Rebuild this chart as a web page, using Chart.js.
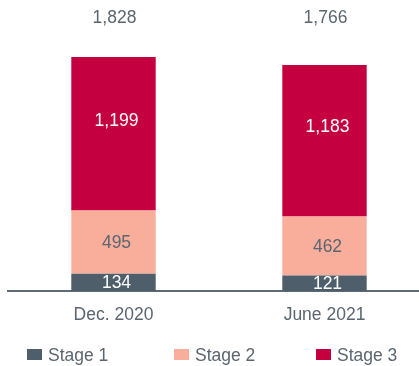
<!DOCTYPE html>
<html>
<head>
<meta charset="utf-8">
<script src="https://cdn.jsdelivr.net/npm/chart.js@4/dist/chart.umd.min.js"></script>
<style>
  html, body { margin: 0; padding: 0; background: #fff; overflow: hidden; }
  #wrap { width: 419px; height: 366px; overflow: hidden; }
</style>
</head>
<body>
<div id="wrap"><canvas id="stageChart" width="430" height="366"></canvas></div>
<script>
const categories = ["Dec. 2020", "June 2021"];
const stageNames = ["Stage 1", "Stage 2", "Stage 3"];
const stage1 = [134, 121];
const stage2 = [495, 462];
const stage3 = [1199, 1183];

const stageColors = ["#4e5f6b", "#f9ae9c", "#c50040"];
const labelColors = ["#ffffff", "#5b6670", "#ffffff"];
const labelShiftY = [1, 1, -13];
const textGray = "#5b6670";
const fontFamily = "'Liberation Sans', Arial, sans-serif";
const fontSize = 17.5;

const fmt = v => v.toLocaleString("en-US");

// value labels inside segments + totals in a row at the top
const valueLabels = {
    id: "valueLabels",
    afterDatasetsDraw(chart) {
        const ctx = chart.ctx;
        ctx.save();
        ctx.font = fontSize + "px " + fontFamily;
        ctx.textAlign = "center";
        ctx.textBaseline = "middle";
        chart.data.datasets.forEach((ds, di) => {
            chart.getDatasetMeta(di).data.forEach((bar, i) => {
                ctx.fillStyle = labelColors[di];
                ctx.fillText(fmt(ds.data[i]), bar.x + 3, (bar.y + bar.base) / 2 + labelShiftY[di]);
            });
        });
        const topMeta = chart.getDatasetMeta(chart.data.datasets.length - 1);
        ctx.fillStyle = textGray;
        topMeta.data.forEach((bar, i) => {
            const total = chart.data.datasets.reduce((s, ds) => s + ds.data[i], 0);
            ctx.fillText(fmt(total), bar.x + 1, 18);
        });
        ctx.restore();
    }
};

// legend drawn along the bottom
const legendXs = [27, 174, 316];
const bottomLegend = {
    id: "bottomLegend",
    afterDraw(chart) {
        const ctx = chart.ctx;
        ctx.save();
        ctx.font = fontSize + "px " + fontFamily;
        ctx.textAlign = "left";
        ctx.textBaseline = "middle";
        chart.data.datasets.forEach((ds, di) => {
            const x = legendXs[di];
            ctx.fillStyle = ds.backgroundColor;
            ctx.fillRect(x, 349, 15, 11);
            ctx.fillStyle = textGray;
            ctx.fillText(ds.label, x + 21, 356);
        });
        ctx.restore();
    }
};

const ctx = document.getElementById("stageChart").getContext("2d");
new Chart(ctx, {
    type: "bar",
    data: {
        labels: categories,
        datasets: [
            { label: stageNames[0], data: stage1, backgroundColor: stageColors[0] },
            { label: stageNames[1], data: stage2, backgroundColor: stageColors[1] },
            { label: stageNames[2], data: stage3, backgroundColor: stageColors[2] }
        ]
    },
    options: {
        responsive: false,
        animation: false,
        layout: { padding: { top: 35, bottom: 26, left: 8, right: 0 } },
        datasets: { bar: { barPercentage: 1, categoryPercentage: 0.4 } },
        plugins: {
            legend: { display: false },
            tooltip: { enabled: false }
        },
        scales: {
            x: {
                stacked: true,
                grid: { display: false, drawTicks: false },
                border: { display: true, color: "#5f6b74", width: 2 },
                ticks: {
                    color: textGray,
                    padding: 14,
                    font: { family: fontFamily, size: fontSize }
                }
            },
            y: {
                stacked: true,
                display: false,
                min: 0,
                max: 2000
            }
        }
    },
    plugins: [valueLabels, bottomLegend]
});
</script>
</body>
</html>
